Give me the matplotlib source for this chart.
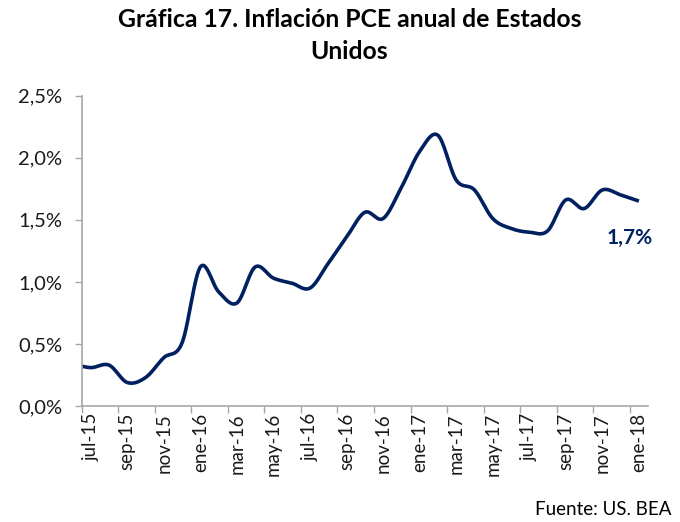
import numpy as np
import matplotlib
matplotlib.use('Agg')
import matplotlib.pyplot as plt

plt.rcParams['font.family'] = ['Lato', 'DejaVu Sans']

# monthly PCE inflation, jun-15 .. ene-18 (jun-15 only feeds the clipped start of the line)
months = ['jun-15', 'jul-15', 'ago-15', 'sep-15', 'oct-15', 'nov-15', 'dic-15',
          'ene-16', 'feb-16', 'mar-16', 'abr-16', 'may-16', 'jun-16', 'jul-16',
          'ago-16', 'sep-16', 'oct-16', 'nov-16', 'dic-16', 'ene-17', 'feb-17',
          'mar-17', 'abr-17', 'may-17', 'jun-17', 'jul-17', 'ago-17', 'sep-17',
          'oct-17', 'nov-17', 'dic-17', 'ene-18']
pce = [0.34, 0.31, 0.33, 0.19, 0.23, 0.39, 0.51,
       1.12, 0.92, 0.83, 1.12, 1.03, 0.99, 0.95,
       1.15, 1.36, 1.56, 1.51, 1.76, 2.05, 2.18,
       1.82, 1.74, 1.51, 1.43, 1.40, 1.41, 1.66,
       1.59, 1.74, 1.70, 1.65]
tick_labels = ['jul-15', 'sep-15', 'nov-15', 'ene-16', 'mar-16', 'may-16', 'jul-16',
               'sep-16', 'nov-16', 'ene-17', 'mar-17', 'may-17', 'jul-17', 'sep-17',
               'nov-17', 'ene-18']
last_label = '1,7%'
navy = '#002060'
grey = '#A6A6A6'


def smooth(x, y, n=30):
    # excel-like smoothed line (catmull-rom bezier)
    x = np.asarray(x, float)
    y = np.asarray(y, float)
    px = np.concatenate([[x[0]], x, [x[-1]]])
    py = np.concatenate([[y[0]], y, [y[-1]]])
    t = np.linspace(0, 1, n)[:, None]
    xs, ys = [], []
    for i in range(1, len(px) - 2):
        p0 = np.array([px[i], py[i]])
        p3 = np.array([px[i + 1], py[i + 1]])
        c1 = p0 + (p3 - np.array([px[i - 1], py[i - 1]])) / 6
        c2 = p3 - (np.array([px[i + 2], py[i + 2]]) - p0) / 6
        b = (1 - t) ** 3 * p0 + 3 * (1 - t) ** 2 * t * c1 + 3 * (1 - t) * t ** 2 * c2 + t ** 3 * p3
        xs.append(b[:, 0])
        ys.append(b[:, 1])
    return np.concatenate(xs), np.concatenate(ys)


# categories sit between tick marks: month k is centred at k + 0.5
pos = np.arange(len(months)) - 0.5
sx, sy = smooth(pos, pce)

fig = plt.figure(figsize=(6.8, 5.22), dpi=100)
ax = fig.add_axes([0.12, 0.222, 0.833, 0.595])
ax.plot(sx, sy, color=navy, lw=2.6, solid_capstyle='butt', clip_on=True)

ax.set_xlim(0, 31)
ax.set_ylim(0, 2.5)

ax.set_yticks(np.arange(0, 2.51, 0.5))
ax.set_yticklabels([f'{v:.1f}%'.replace('.', ',') for v in np.arange(0, 2.51, 0.5)])

ax.set_xticks(np.arange(0, 31, 2))
ax.set_xticklabels([])
ax.set_xticks(np.arange(0, 31, 2) + 0.5, minor=True)
ax.set_xticklabels(tick_labels, minor=True, rotation=90)

ax.tick_params(axis='x', which='major', length=5, width=1, color=grey, direction='out')
ax.tick_params(axis='x', which='minor', length=0, pad=5, labelsize=13.5, labelcolor='#1a1a1a')
ax.tick_params(axis='y', length=5, width=1, color=grey, pad=9, labelsize=14.5, labelcolor='#1a1a1a')

for s in ['top', 'right']:
    ax.spines[s].set_visible(False)
for s in ['left', 'bottom']:
    ax.spines[s].set_color(grey)
    ax.spines[s].set_linewidth(1.2)

ax.text(30.0, 1.43, last_label, color=navy, fontsize=15, fontweight='bold',
        ha='center', va='top')

fig.text(0.514, 0.985, 'Gráfica 17. Inflación PCE anual de Estados\nUnidos', ha='center', va='top',
         fontsize=17.8, fontweight='bold', linespacing=1.5)
fig.text(0.988, 0.008, 'Fuente: US. BEA', ha='right', va='bottom', fontsize=13.5)

fig.savefig('out.png', dpi=100)
